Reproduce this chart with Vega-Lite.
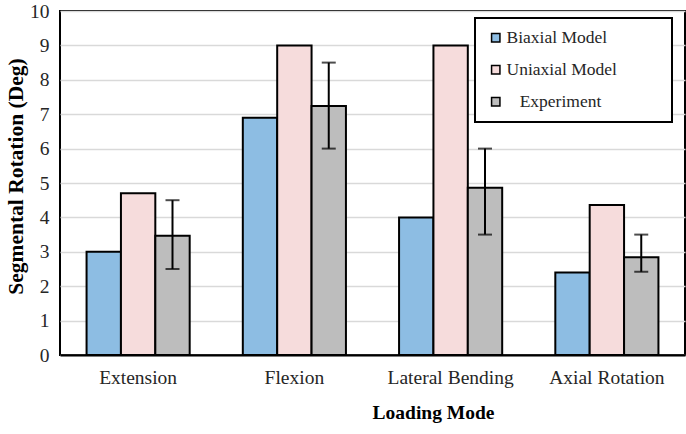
{
  "$schema": "https://vega.github.io/schema/vega-lite/v6.json",
  "width": 625,
  "height": 344,
  "autosize": {"type": "none"},
  "padding": {"left": 60, "top": 11, "right": 1, "bottom": 79},
  "background": "#ffffff",
  "config": {
    "font": "Liberation Serif",
    "view": {"stroke": "#000000", "strokeWidth": 2},
    "legend": {"strokeWidth": 2},
    "axisY": {
      "values": [0, 1, 2, 3, 4, 5, 6, 7, 8, 9, 10],
      "labelOverlap": false,
      "labelFontSize": 19.5,
      "labelColor": "#262626",
      "labelPadding": 11,
      "ticks": false,
      "domain": false,
      "gridColor": "#d9d9d9",
      "gridWidth": 1.5,
      "titleFontSize": 21.5,
      "titleFontWeight": "bold",
      "titleColor": "#000000",
      "titlePadding": 2,
      "titleY": 165
    }
  },
  "data": {
    "values": [
      {"mode": "Extension", "model": "Biaxial Model", "rotation": 3.0},
      {"mode": "Extension", "model": "Uniaxial Model", "rotation": 4.7},
      {"mode": "Extension", "model": "Experiment", "rotation": 3.47, "lo": 2.5, "hi": 4.5},
      {"mode": "Flexion", "model": "Biaxial Model", "rotation": 6.9},
      {"mode": "Flexion", "model": "Uniaxial Model", "rotation": 9.0},
      {"mode": "Flexion", "model": "Experiment", "rotation": 7.24, "lo": 6.0, "hi": 8.5},
      {"mode": "Lateral Bending", "model": "Biaxial Model", "rotation": 4.0},
      {"mode": "Lateral Bending", "model": "Uniaxial Model", "rotation": 9.0},
      {"mode": "Lateral Bending", "model": "Experiment", "rotation": 4.86, "lo": 3.5, "hi": 6.0},
      {"mode": "Axial Rotation", "model": "Biaxial Model", "rotation": 2.4},
      {"mode": "Axial Rotation", "model": "Uniaxial Model", "rotation": 4.36},
      {"mode": "Axial Rotation", "model": "Experiment", "rotation": 2.84, "lo": 2.42, "hi": 3.5}
    ]
  },
  "encoding": {
    "x": {
      "field": "mode",
      "type": "nominal",
      "sort": ["Extension", "Flexion", "Lateral Bending", "Axial Rotation"],
      "scale": {"paddingInner": 0.34, "paddingOuter": 0.17},
      "axis": {
        "title": "Loading Mode",
        "labelAngle": 0,
        "labelFontSize": 19.5,
        "labelColor": "#262626",
        "labelPadding": 13,
        "ticks": false,
        "domainColor": "#000000",
        "domainWidth": 2,
        "titleFontSize": 19.5,
        "titleFontWeight": "bold",
        "titleColor": "#000000",
        "titleX": 373,
        "titleY": 57,
        "titleBaseline": "middle",
        "titleAlign": "center"
      }
    },
    "xOffset": {
      "field": "model",
      "type": "nominal",
      "sort": ["Biaxial Model", "Uniaxial Model", "Experiment"],
      "scale": {"paddingInner": 0, "paddingOuter": 0}
    }
  },
  "layer": [
    {
      "mark": {"type": "bar", "stroke": "#000000", "strokeWidth": 2},
      "encoding": {
        "y": {
          "field": "rotation",
          "type": "quantitative",
          "scale": {"domain": [0, 10], "nice": false},
          "title": "Segmental Rotation (Deg)"
        },
        "color": {
          "field": "model",
          "type": "nominal",
          "sort": ["Biaxial Model", "Uniaxial Model", "Experiment"],
          "scale": {
            "domain": ["Biaxial Model", "Uniaxial Model", "Experiment"],
            "range": ["#8dbde3", "#f6dcdc", "#bdbdbd"]
          },
          "legend": {
            "title": null,
            "orient": "none",
            "legendX": 415,
            "legendY": 7,
            "padding": 11,
            "fillColor": "#ffffff",
            "strokeColor": "#000000",
            "symbolType": "square",
            "symbolSize": 70,
            "symbolStrokeColor": "#000000",
            "symbolStrokeWidth": 1.5,
            "symbolOffset": 1,
            "labelFontSize": 17.5,
            "labelColor": "#262626",
            "labelOffset": 2,
            "rowPadding": 13,
            "labelLimit": 400,
            "labelExpr": "(datum.label === 'Experiment' ? '\u200b\u00a0\u00a0\u00a0Experiment' : datum.label) + '\u00a0\u00a0\u00a0\u00a0\u00a0\u00a0\u00a0\u00a0\u00a0\u00a0\u200b'"
          }
        }
      }
    },
    {
      "transform": [{"filter": "isValid(datum.lo)"}],
      "mark": {"type": "rule", "color": "#000000", "strokeWidth": 2},
      "encoding": {
        "y": {"field": "lo", "type": "quantitative", "title": "Segmental Rotation (Deg)"},
        "y2": {"field": "hi"}
      }
    },
    {
      "transform": [{"filter": "isValid(datum.lo)"}],
      "mark": {"type": "tick", "color": "#000000", "thickness": 2, "size": 14},
      "encoding": {
        "y": {"field": "lo", "type": "quantitative", "title": "Segmental Rotation (Deg)"}
      }
    },
    {
      "transform": [{"filter": "isValid(datum.hi)"}],
      "mark": {"type": "tick", "color": "#000000", "thickness": 2, "size": 14},
      "encoding": {
        "y": {"field": "hi", "type": "quantitative", "title": "Segmental Rotation (Deg)"}
      }
    }
  ]
}
